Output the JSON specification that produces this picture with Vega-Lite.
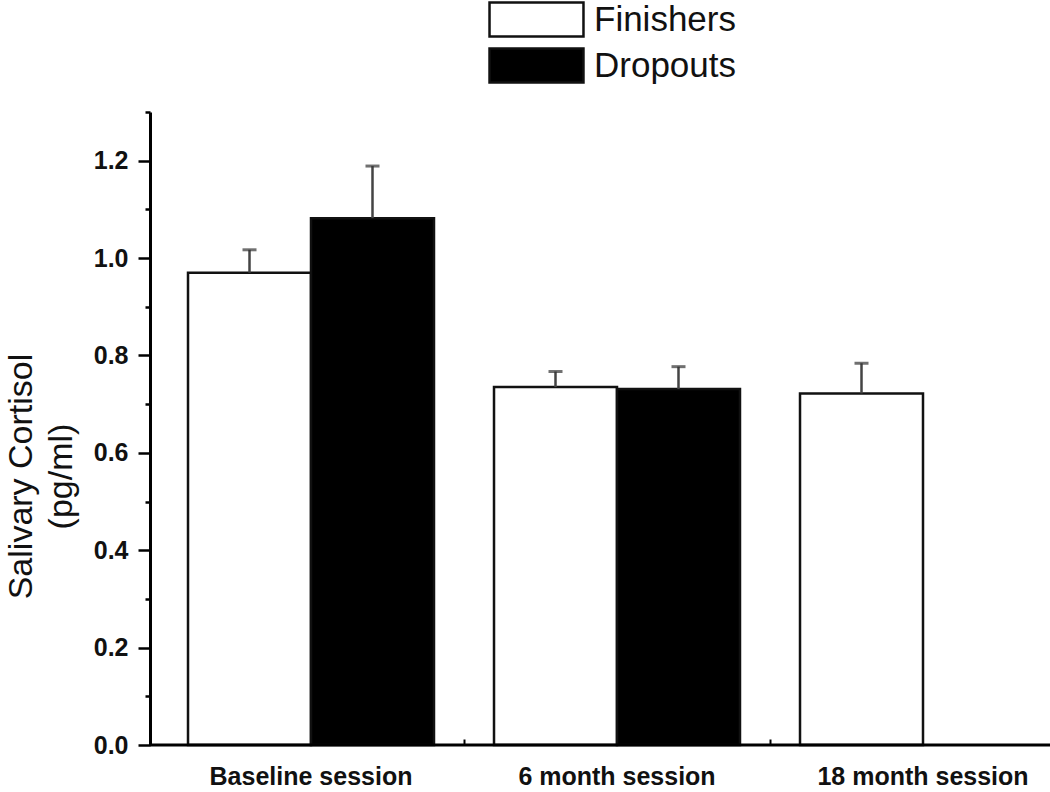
{
  "$schema": "https://vega.github.io/schema/vega-lite/v6.json",
  "width": 900,
  "height": 633,
  "autosize": {"type": "none"},
  "padding": {"left": 150, "top": 112, "right": 0, "bottom": 47},
  "background": "white",
  "config": {
    "view": {"stroke": null},
    "font": "Liberation Sans"
  },
  "data": {
    "values": [
      {"session": "Baseline session", "group": "Finishers", "value": 0.970, "upper": 1.017},
      {"session": "Baseline session", "group": "Dropouts", "value": 1.082, "upper": 1.189},
      {"session": "6 month session", "group": "Finishers", "value": 0.735, "upper": 0.767},
      {"session": "6 month session", "group": "Dropouts", "value": 0.731, "upper": 0.777},
      {"session": "18 month session", "group": "Finishers", "value": 0.722, "upper": 0.784}
    ]
  },
  "encoding": {
    "x": {
      "field": "session",
      "type": "nominal",
      "sort": ["Baseline session", "6 month session", "18 month session"],
      "scale": {"range": [8, 926], "paddingInner": 0, "paddingOuter": 0},
      "axis": {
        "title": null,
        "domain": false,
        "labelAngle": 0,
        "bandPosition": 0,
        "tickSize": -6,
        "tickWidth": 2,
        "tickColor": {"condition": {"test": "datum.value == 'Baseline session'", "value": "transparent"}, "value": "black"},
        "labelFont": "Liberation Sans",
        "labelFontSize": 25,
        "labelFontWeight": "bold",
        "labelColor": "#111",
        "labelLimit": 0,
        "labelPadding": 25
      }
    },
    "xOffset": {
      "field": "group",
      "type": "nominal",
      "sort": ["Finishers", "Dropouts"],
      "scale": {"domain": ["Finishers", "Dropouts"], "paddingInner": 0, "paddingOuter": 0.244}
    }
  },
  "layer": [
    {
      "mark": {"type": "bar", "stroke": "#111", "strokeWidth": 2.5},
      "encoding": {
        "y": {
          "field": "value",
          "type": "quantitative",
          "scale": {"domain": [0, 1.3], "nice": false, "zero": true},
          "axis": {
            "values": [0, 0.1, 0.2, 0.3, 0.4, 0.5, 0.6, 0.7, 0.8, 0.9, 1.0, 1.1, 1.2, 1.3],
            "labelExpr": "round(datum.value*10)%2==0 ? format(datum.value,'.1f') : ''",
            "tickSize": {"condition": {"test": "round(datum.value*10)%2==0", "value": 12}, "value": 5},
            "tickWidth": 2.5,
            "tickColor": "black",
            "domainColor": "black",
            "domainWidth": 3,
            "grid": false,
            "labelFont": "Liberation Sans",
            "labelFontSize": 25,
            "labelFontWeight": "bold",
            "labelColor": "#111",
            "labelPadding": 10,
            "title": ["Salivary Cortisol", "(pg/ml)"],
            "titleFont": "Liberation Sans",
            "titleFontSize": 34,
            "titleFontWeight": "normal",
            "titleColor": "#111",
            "titleLineHeight": 40,
            "titleBaseline": "alphabetic",
            "titleX": -119,
            "titleY": 364
          }
        },
        "fill": {
          "field": "group",
          "type": "nominal",
          "scale": {"domain": ["Finishers", "Dropouts"], "range": ["white", "black"]},
          "legend": {
            "title": null,
            "orient": "none",
            "legendX": 367,
            "legendY": -112,
            "symbolType": "M-2.61,-0.95L2.61,-0.95L2.61,0.95L-2.61,0.95Z",
            "symbolSize": 1296,
            "symbolStrokeColor": "#111",
            "symbolStrokeWidth": 2.5,
            "labelFont": "Liberation Sans",
            "labelFontSize": 35,
            "labelColor": "#111",
            "labelOffset": 38,
            "rowPadding": 1
          }
        }
      }
    },
    {
      "mark": {"type": "rule", "color": "#444", "strokeWidth": 2.5},
      "encoding": {
        "y": {"field": "value", "type": "quantitative"},
        "y2": {"field": "upper"}
      }
    },
    {
      "mark": {"type": "tick", "color": "#333", "size": 14, "thickness": 3, "orient": "horizontal"},
      "encoding": {
        "y": {"field": "upper", "type": "quantitative"}
      }
    },
    {
      "data": {"values": [{"base": 0}]},
      "mark": {"type": "rule", "color": "black", "strokeWidth": 3},
      "encoding": {
        "x": null,
        "xOffset": null,
        "y": {"field": "base", "type": "quantitative"}
      }
    }
  ]
}
